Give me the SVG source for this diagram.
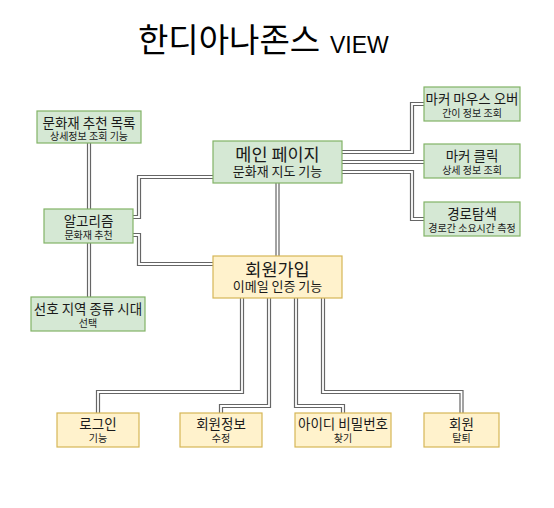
<svg xmlns="http://www.w3.org/2000/svg" width="554" height="508" viewBox="0 0 554 508">
<style>
.g rect{fill:#d5e8d4;stroke:#82b366;stroke-width:1.2}
.y rect{fill:#fff2cc;stroke:#d6b656;stroke-width:1.2}
text{font-family:"Noto Sans CJK KR","Noto Sans",sans-serif;fill:#1a1a1a;text-anchor:middle;dominant-baseline:central}
.t{font-size:13.5px}
.s{font-size:10px}
.bt{font-size:17.5px}
.bs{font-size:13px}
.o{fill:none;stroke:#666;stroke-width:4.2;stroke-linejoin:miter}
.i{fill:none;stroke:#fff;stroke-width:1.8;stroke-linejoin:miter}
</style>
<defs>
<g id="paths">
<path d="M89,143V209"/>
<path d="M89,243V297"/>
<path d="M133,217H139V177H213"/>
<path d="M133,235H139V264H213"/>
<path d="M277.5,183V256"/>
<path d="M342,152H412V104H424"/>
<path d="M342,162H424"/>
<path d="M342,172H412V219H424"/>
<path d="M242,298V392H98V413"/>
<path d="M269,298V406H221V413"/>
<path d="M296,298V406H343V413"/>
<path d="M323,298V392H461.5V413"/>
</g>
</defs>
<g id="title">
<text x="138" y="52" style="font-size:33px;text-anchor:start;dominant-baseline:alphabetic;fill:#000">한디아나존스</text>
<text x="330" y="52.5" style="font-family:'Liberation Sans',sans-serif;font-size:23px;text-anchor:start;dominant-baseline:alphabetic;fill:#000">VIEW</text>
</g>
<g id="connectors">
<use href="#paths" class="o"/>
<use href="#paths" class="i"/>
</g>
<g id="n-list" class="g"><rect x="37" y="111" width="104" height="32"/><text><tspan class="t" x="89" y="122">문화재 추천 목록</tspan><tspan class="s" x="89" y="135">상세정보 조회 기능</tspan></text></g>
<g id="n-algo" class="g"><rect x="44" y="209" width="89" height="34"/><text><tspan class="t" x="88.5" y="219.5">알고리즘</tspan><tspan class="s" x="88.5" y="234">문화재 추천</tspan></text></g>
<g id="n-pref" class="g"><rect x="31" y="297" width="114" height="34"/><text><tspan class="t" x="88" y="307.5">선호 지역 종류 시대</tspan><tspan class="s" x="88" y="322">선택</tspan></text></g>
<g id="n-main" class="g"><rect x="213" y="141" width="129" height="42"/><text><tspan class="bt" x="277.5" y="153">메인 페이지</tspan><tspan class="bs" x="277.5" y="169.5">문화재 지도 기능</tspan></text></g>
<g id="n-join" class="y"><rect x="213" y="256" width="129" height="42"/><text><tspan class="bt" x="277.5" y="268">회원가입</tspan><tspan class="bs" x="277.5" y="284.5">이메일 인증 기능</tspan></text></g>
<g id="n-hover" class="g"><rect x="424" y="87" width="96" height="34"/><text><tspan class="t" x="472" y="97.5">마커 마우스 오버</tspan><tspan class="s" x="472" y="112">간이 정보 조회</tspan></text></g>
<g id="n-click" class="g"><rect x="424" y="144" width="96" height="34"/><text><tspan class="t" x="472" y="154.5">마커 클릭</tspan><tspan class="s" x="472" y="169">상세 정보 조회</tspan></text></g>
<g id="n-route" class="g"><rect x="424" y="202" width="96" height="34"/><text><tspan class="t" x="472" y="212.5">경로탐색</tspan><tspan class="s" x="472" y="227">경로간 소요시간 측정</tspan></text></g>
<g id="n-login" class="y"><rect x="57" y="413" width="82" height="34"/><text><tspan class="t" x="98" y="422.5">로그인</tspan><tspan class="s" x="98" y="437">기능</tspan></text></g>
<g id="n-info" class="y"><rect x="180" y="413" width="82" height="34"/><text><tspan class="t" x="221" y="422.5">회원정보</tspan><tspan class="s" x="221" y="437">수정</tspan></text></g>
<g id="n-find" class="y"><rect x="295" y="413" width="96" height="34"/><text><tspan class="t" x="343" y="422.5">아이디 비밀번호</tspan><tspan class="s" x="343" y="437">찾기</tspan></text></g>
<g id="n-quit" class="y"><rect x="424" y="413" width="75" height="34"/><text><tspan class="t" x="461.5" y="422.5">회원</tspan><tspan class="s" x="461.5" y="437">탈퇴</tspan></text></g>
</svg>
